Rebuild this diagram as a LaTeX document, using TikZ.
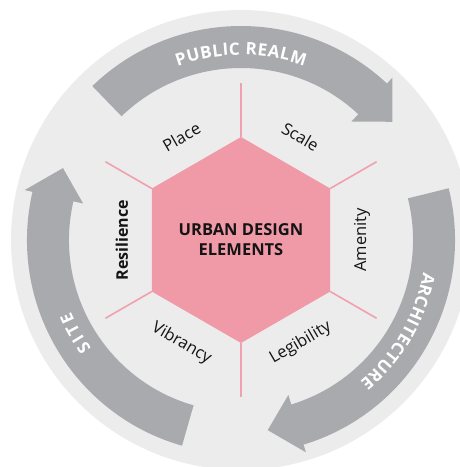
\documentclass[tikz,border=0pt]{standalone}
\usepackage{fontspec}
\setmainfont{Open Sans}
\setsansfont{Open Sans}
\usepackage{xcolor}
\usepackage{tikz}
\usetikzlibrary{shapes.geometric}
\usetikzlibrary{calc}
\usetikzlibrary{decorations.text}
\definecolor{ringgrey}{HTML}{ECECEC}
\definecolor{bandgrey}{HTML}{A9AAAD}
\definecolor{hexpink}{HTML}{F09AA8}
\definecolor{spokepink}{HTML}{F0A0AE}
\definecolor{inkblack}{HTML}{141414}
\newcommand{\arcfont}{\fontsize{17}{20}\selectfont\bfseries}

\begin{document}
\begin{tikzpicture}[
		elem/.style={font=\fontsize{16.5}{19}\selectfont, text=inkblack, inner sep=0pt},
		core/.style={regular polygon, regular polygon sides=6, shape border rotate=30,
			minimum size=206pt, inner sep=0pt, outer sep=0pt, fill=hexpink,
			text=inkblack, align=center, font=\fontsize{16.5}{20}\selectfont\bfseries},
		spoke/.style={draw=spokepink, line width=1.6pt},
		band/.style={fill=bandgrey}]
	\useasboundingbox (-241pt,-227pt) rectangle (219pt,240pt);
	\clip (-241pt,-227pt) rectangle (219pt,240pt);
	\fill[ringgrey] (0,0) circle (230pt);
	%% Arrows
	\foreach \t in {134,14,254}{
		\fill[band] (\t:172pt) arc[start angle=\t, end angle=\t-87, radius=172pt]
			-- (\t-87:162pt) -- (\t-96:192pt) -- (\t-87:222pt) -- (\t-87:214pt)
			arc[start angle=\t-87, end angle=\t, radius=214pt] -- cycle;
	}
	\path[decorate, decoration={text along path, text color=white, text align={fit to path},
		text={|\arcfont|PUBLIC REALM}}] (110:185pt) arc[start angle=110, end angle=70, radius=185pt];
	\path[decorate, decoration={text along path, text color=white, text align={fit to path},
		text={|\arcfont|ARCHITECTURE}}] (-10:185pt) arc[start angle=-10, end angle=-50, radius=185pt];
	\path[decorate, decoration={text along path, text color=white, text align={fit to path},
		text={|\arcfont|SITE}}] (216:185pt) arc[start angle=216, end angle=203, radius=185pt];
	%% Hexagon
	\node[core] (core) at (0,0) {URBAN DESIGN\\ELEMENTS};
	\foreach \i in {1,...,6}
		\draw[spoke] (core.corner \i) -- ($(core.center)!1.52!(core.corner \i)$);
	%% Elements
	\node[elem, rotate=30] (place) at (120:119pt) {Place};
	\node[elem, rotate=-30] (scale) at (60:119pt) {Scale};
	\node[elem, rotate=90] (amenity) at (0:121pt) {Amenity};
	\node[elem, rotate=30] (legibility) at (-60:119pt) {Legibility};
	\node[elem, rotate=-30] (vibrancy) at (-120:119pt) {Vibrancy};
	\node[elem, rotate=90, font=\fontsize{16}{19}\selectfont\bfseries] (resilience) at (180:119pt) {Resilience};
\end{tikzpicture}
\end{document}
